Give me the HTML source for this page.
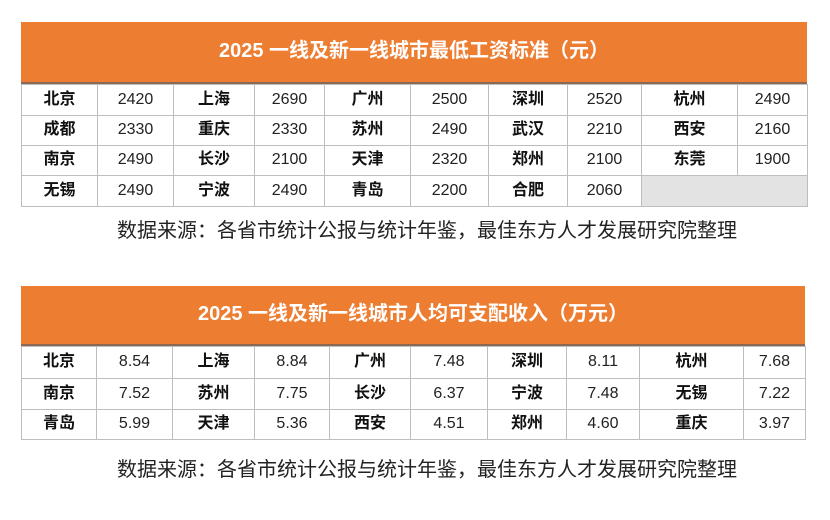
<!DOCTYPE html>
<html><head><meta charset="utf-8"><style>
body{margin:0;width:830px;height:520px;background:#fff;position:relative;overflow:hidden;font-family:"Liberation Sans","Noto Sans CJK SC",sans-serif;}
.hd{position:absolute;background:#ED7D31;color:#fff;font-weight:bold;font-size:20px;text-align:center;border-bottom:2px solid #8a6a55;box-sizing:border-box;}
table{position:absolute;border-collapse:collapse;table-layout:fixed;}
td{border:1px solid #bdbdbd;text-align:center;font-size:16px;color:#222;padding:0;line-height:16px;vertical-align:middle;}
td span{display:inline-block;line-height:16px;height:16px;vertical-align:middle;}
td.c{font-weight:bold;color:#111;}
.src{position:absolute;left:12px;width:830px;text-align:center;font-size:20px;color:#222;font-family:"Noto Sans CJK SC",sans-serif;}
</style></head><body>
<div class="hd" style="left:21px;top:22px;width:786px;height:62px;line-height:58px;">2025 一线及新一线城市最低工资标准（元）</div>
<table style="left:21px;top:84px;width:786px;">
<colgroup><col style="width:76px"><col style="width:76px"><col style="width:81px"><col style="width:70px"><col style="width:86px"><col style="width:78px"><col style="width:79px"><col style="width:74px"><col style="width:96px"><col style="width:70px"></colgroup>
<tr style="height:31px"><td class="c"><span>北京</span></td><td><span>2420</span></td><td class="c"><span>上海</span></td><td><span>2690</span></td><td class="c"><span>广州</span></td><td><span>2500</span></td><td class="c"><span>深圳</span></td><td><span>2520</span></td><td class="c"><span>杭州</span></td><td><span>2490</span></td></tr>
<tr style="height:30px"><td class="c"><span>成都</span></td><td><span>2330</span></td><td class="c"><span>重庆</span></td><td><span>2330</span></td><td class="c"><span>苏州</span></td><td><span>2490</span></td><td class="c"><span>武汉</span></td><td><span>2210</span></td><td class="c"><span>西安</span></td><td><span>2160</span></td></tr>
<tr style="height:30px"><td class="c"><span>南京</span></td><td><span>2490</span></td><td class="c"><span>长沙</span></td><td><span>2100</span></td><td class="c"><span>天津</span></td><td><span>2320</span></td><td class="c"><span>郑州</span></td><td><span>2100</span></td><td class="c"><span>东莞</span></td><td><span>1900</span></td></tr>
<tr style="height:31px"><td class="c"><span>无锡</span></td><td><span>2490</span></td><td class="c"><span>宁波</span></td><td><span>2490</span></td><td class="c"><span>青岛</span></td><td><span>2200</span></td><td class="c"><span>合肥</span></td><td><span>2060</span></td><td colspan="2" style="background:#e3e3e3"></td></tr>
</table>
<div class="src" style="top:214px;">数据来源：各省市统计公报与统计年鉴，最佳东方人才发展研究院整理</div>

<div class="hd" style="left:21px;top:286px;width:784px;height:60px;line-height:56px;">2025 一线及新一线城市人均可支配收入（万元）</div>
<table style="left:21px;top:346px;width:784px;">
<colgroup><col style="width:75px"><col style="width:76px"><col style="width:82px"><col style="width:75px"><col style="width:81px"><col style="width:77px"><col style="width:79px"><col style="width:73px"><col style="width:104px"><col style="width:62px"></colgroup>
<tr style="height:32px"><td class="c"><span>北京</span></td><td><span>8.54</span></td><td class="c"><span>上海</span></td><td><span>8.84</span></td><td class="c"><span>广州</span></td><td><span>7.48</span></td><td class="c"><span>深圳</span></td><td><span>8.11</span></td><td class="c"><span>杭州</span></td><td><span>7.68</span></td></tr>
<tr style="height:31px"><td class="c"><span>南京</span></td><td><span>7.52</span></td><td class="c"><span>苏州</span></td><td><span>7.75</span></td><td class="c"><span>长沙</span></td><td><span>6.37</span></td><td class="c"><span>宁波</span></td><td><span>7.48</span></td><td class="c"><span>无锡</span></td><td><span>7.22</span></td></tr>
<tr style="height:30px"><td class="c"><span>青岛</span></td><td><span>5.99</span></td><td class="c"><span>天津</span></td><td><span>5.36</span></td><td class="c"><span>西安</span></td><td><span>4.51</span></td><td class="c"><span>郑州</span></td><td><span>4.60</span></td><td class="c"><span>重庆</span></td><td><span>3.97</span></td></tr>
</table>
<div class="src" style="top:453px;">数据来源：各省市统计公报与统计年鉴，最佳东方人才发展研究院整理</div>
</body></html>
